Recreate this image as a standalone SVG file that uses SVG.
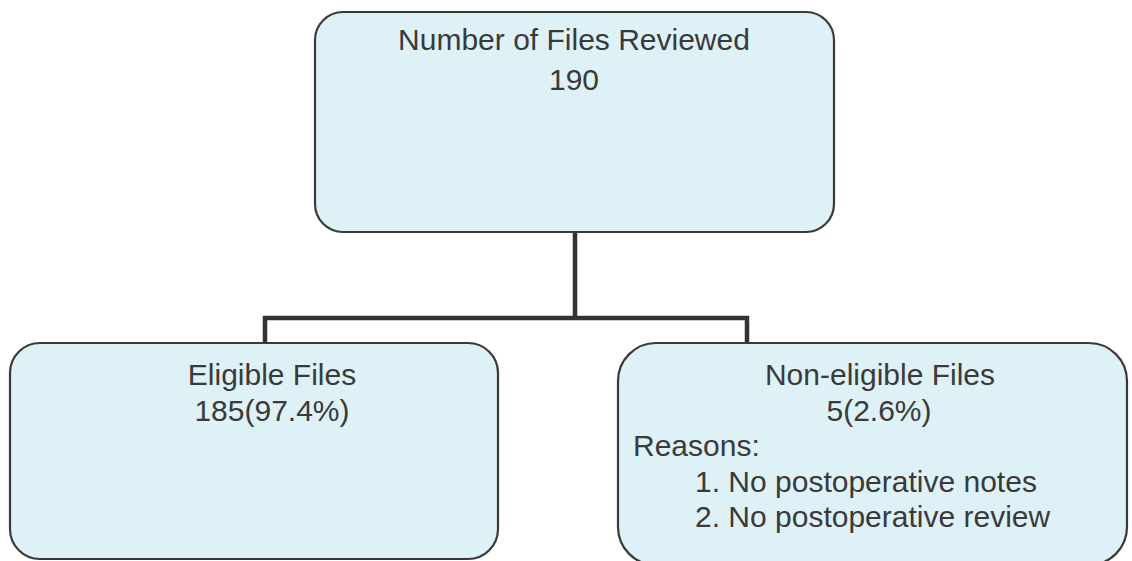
<svg xmlns="http://www.w3.org/2000/svg" width="1132" height="561" viewBox="0 0 1132 561">
<style>
.box{fill:#def1f6;stroke:#3a3a3a;stroke-width:2.2}
.t{font-family:"Liberation Sans",Arial,sans-serif;font-size:30px;fill:#3a3a3a}
.c{text-anchor:middle}
.conn{fill:none;stroke:#333;stroke-width:4.5}
</style>
<rect width="1132" height="561" fill="#ffffff"/>
<g id="connectors">
<path class="conn" d="M575 232 V318 M265 343 V318 H747 V343"/>
</g>
<g id="top">
<rect class="box" x="315" y="12" width="519" height="220" rx="28" ry="28"/>
<text class="t c" x="574" y="50">Number of Files Reviewed</text>
<text class="t c" x="574" y="90">190</text>
</g>
<g id="eligible">
<rect class="box" x="10" y="343" width="488" height="216" rx="30" ry="30"/>
<text class="t c" x="272" y="385">Eligible Files</text>
<text class="t c" x="272" y="421">185(97.4%)</text>
</g>
<g id="noneligible">
<rect class="box" x="618" y="343" width="509" height="222" rx="38" ry="38"/>
<text class="t c" x="880" y="385">Non-eligible Files</text>
<text class="t c" x="879" y="421">5(2.6%)</text>
<text class="t" x="633" y="456">Reasons:</text>
<text class="t" x="695" y="492">1. No postoperative notes</text>
<text class="t" x="695" y="527">2. No postoperative review</text>
</g>
</svg>
